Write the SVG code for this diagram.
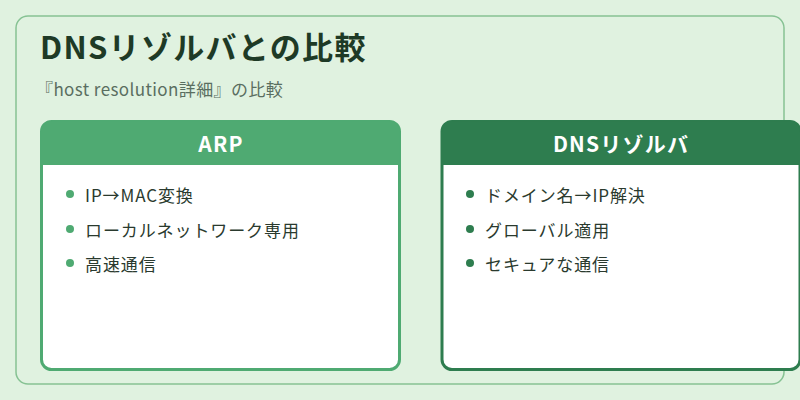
<svg xmlns="http://www.w3.org/2000/svg" width="800" height="400" viewBox="0 0 800 400">
<style>
text{font-family:"Noto Sans CJK JP","Noto Sans",sans-serif}
.it{font-size:17px;fill:#2a3a2e;letter-spacing:0.9px}
.hd{font-size:21px;font-weight:bold;fill:#fff;letter-spacing:1.2px}
</style>
<rect width="800" height="400" fill="#e0f2e0"/>
<rect x="16" y="16" width="768" height="368" rx="12" fill="none" stroke="#86c293" stroke-width="1.5"/>
<text x="40" y="59" font-size="31" font-weight="bold" fill="#1e3a26" letter-spacing="1.3">DNSリゾルバとの比較</text>
<text x="36" y="96" font-size="17" fill="#5a6e60" letter-spacing="0.4">『host resolution詳細』の比較</text>
<g id="arp">
<rect x="41.5" y="121.5" width="358" height="248" rx="10" fill="#fff" stroke="#4faa72" stroke-width="3"/>
<path d="M41.5 165 V131.5 a10 10 0 0 1 10 -10 H389.5 a10 10 0 0 1 10 10 V165 Z" fill="#4faa72"/>
<text class="hd" x="221" y="152" text-anchor="middle">ARP</text>
<g fill="#4faa72"><circle cx="70" cy="194" r="4"/><circle cx="70" cy="229" r="4"/><circle cx="70" cy="263" r="4"/></g>
<text class="it" x="85" y="202">IP→MAC変換</text>
<text class="it" x="85" y="237">ローカルネットワーク専用</text>
<text class="it" x="85" y="271">高速通信</text>
</g>
<g id="dns">
<rect x="442" y="121.5" width="358" height="248" rx="10" fill="#fff" stroke="#2e7d4f" stroke-width="3"/>
<path d="M442 165 V131.5 a10 10 0 0 1 10 -10 H790 a10 10 0 0 1 10 10 V165 Z" fill="#2e7d4f"/>
<text class="hd" x="621" y="152" text-anchor="middle">DNSリゾルバ</text>
<g fill="#2e7d4f"><circle cx="470" cy="194" r="4"/><circle cx="470" cy="229" r="4"/><circle cx="470" cy="263" r="4"/></g>
<text class="it" x="485" y="202">ドメイン名→IP解決</text>
<text class="it" x="485" y="237">グローバル適用</text>
<text class="it" x="485" y="271">セキュアな通信</text>
</g>
<g id="connectors"/>
</svg>
